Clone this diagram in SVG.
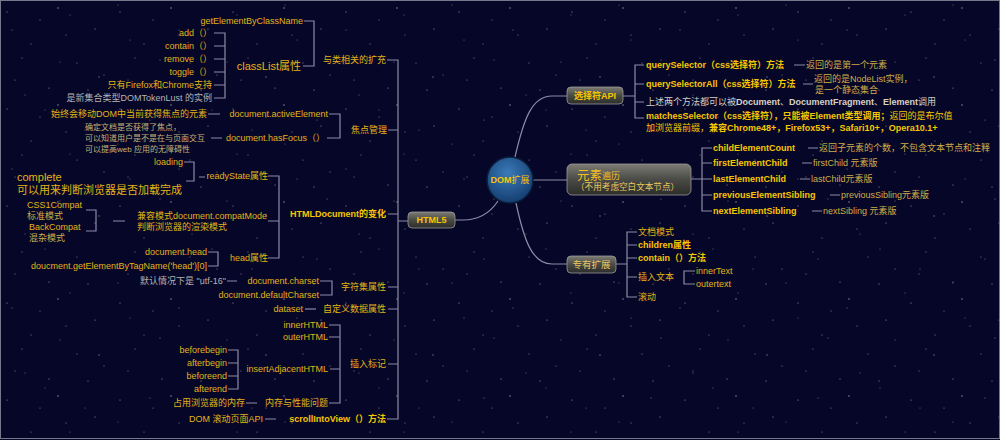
<svg xmlns="http://www.w3.org/2000/svg" width="1000" height="440" viewBox="0 0 1000 440">
<defs>
<style>
text{font-family:"Liberation Sans","Noto Sans CJK SC",sans-serif;font-size:9px;fill:#e2b418;dominant-baseline:central}
.b{font-weight:bold;fill:#f7c600}
.n{font-weight:normal}
.e{text-anchor:end}
.m{text-anchor:middle}
.g{fill:#b4b4b4}
.d{fill:#cfae48}
.s{font-size:8px;fill:#c9b277}
.w{fill:#d6d2c4}
.L{font-size:11px}
.cn{fill:none;stroke:#8c8ca6;stroke-width:1.2}
.box{fill:url(#gb);stroke:#9a9a9a;stroke-width:0.8}
.star{fill:#ffffff}
</style>
<linearGradient id="gb" x1="0" y1="0" x2="0" y2="1"><stop offset="0" stop-color="#7c7c74"/><stop offset="0.5" stop-color="#4a4a46"/><stop offset="1" stop-color="#2c2c2a"/></linearGradient>
<radialGradient id="gc" cx="0.45" cy="0.35" r="0.7"><stop offset="0" stop-color="#3a7ab8"/><stop offset="1" stop-color="#123a6c"/></radialGradient>
<pattern id="st1" width="113" height="97" patternUnits="userSpaceOnUse">
<g class="star" opacity="0.6"><circle cx="7" cy="12" r="0.6"/><circle cx="31" cy="44" r="0.5"/><circle cx="58" cy="8" r="0.7"/><circle cx="77" cy="63" r="0.5"/><circle cx="95" cy="29" r="0.6"/><circle cx="15" cy="80" r="0.5"/><circle cx="49" cy="88" r="0.6"/><circle cx="104" cy="75" r="0.5"/><circle cx="66" cy="35" r="0.5"/><circle cx="88" cy="90" r="0.6"/><circle cx="22" cy="58" r="0.5"/><circle cx="40" cy="20" r="0.5"/></g>
</pattern>
<pattern id="st2" width="167" height="139" patternUnits="userSpaceOnUse">
<g class="star" opacity="0.45"><circle cx="12" cy="30" r="0.6"/><circle cx="45" cy="110" r="0.5"/><circle cx="70" cy="15" r="0.5"/><circle cx="99" cy="77" r="0.7"/><circle cx="130" cy="40" r="0.5"/><circle cx="150" cy="120" r="0.6"/><circle cx="25" cy="95" r="0.5"/><circle cx="118" cy="5" r="0.5"/><circle cx="85" cy="130" r="0.5"/><circle cx="160" cy="60" r="0.6"/><circle cx="60" cy="62" r="0.5"/></g>
</pattern>
</defs>
<rect width="1000" height="440" fill="#060628"/>
<rect width="1000" height="440" fill="url(#st1)"/>
<rect width="1000" height="440" fill="url(#st2)"/>
<rect x="0.5" y="0.5" width="999" height="438" fill="none" stroke="#77778a" stroke-width="1"/>

<g id="connectors" class="cn">
<path d="M387,60 H398 V419 H387"/>
<path d="M388,130 H398 M388,214 H398 M398,221 H408 M388,287 H398 M388,309 H398 M388,364 H398"/>
<path d="M304,21 H314 V66 H303"/>
<path d="M214,33 H225 V98 H214 M214,46 H225 M214,59 H225 M214,72 H225 M214,85 H225"/>
<path d="M329,114 H340 V138 H327 M208,114 H220 M211,138 H222"/>
<path d="M268,176 H279 V258 H268 M268,221 H279"/>
<path d="M184,162 H194 V181 H186 M199,177 H205"/>
<path d="M86,210 H96 V231 H86 M113,221 H125"/>
<path d="M208,252 H218 V266 H208"/>
<path d="M320,281 H332 V295 H320 M227,281 H237"/>
<path d="M305,309 H316"/>
<path d="M329,325 H340 V403 H329 M329,337 H340 M330,369 H340"/>
<path d="M228,350 H238 V389 H228 M228,363 H238 M228,376 H238"/>
<path d="M246,403 H257 M265,419 H276"/>
<path d="M515,157 C524,118 532,96 552,96 H567"/>
<path d="M533,180 H567"/>
<path d="M516,203 C524,240 532,264 552,264 H567"/>
<path d="M498,201 C490,213 478,220 463,220 H455"/>
<path d="M623,96 H635 M644,65 H635 V118 H644 M635,84 H644 M635,102 H644 M794,65 H805 M803,84 H813"/>
<path d="M691,179 H702 M712,148 H702 V211 H712 M702,163 H712 M702,179 H712 M702,195 H712"/>
<path d="M808,148 H818 M802,163 H812 M800,179 H810 M830,195 H840 M812,211 H822"/>
<path d="M616,264 H627 M637,232 H627 V297 H637 M627,245 H637 M627,258 H637 M627,277 H637"/>
<path d="M695,271 H684 V284 H695"/>
</g>

<g id="center"><circle cx="510" cy="180" r="23" fill="url(#gc)" stroke="#0b1e3c" stroke-width="1.5"/><text x="510" y="180" class="m b">DOM<tspan class="n">扩展</tspan></text></g>
<g id="html5"><rect class="box" x="408" y="212" width="47" height="16" rx="4"/><text x="431.5" y="220" class="m b">HTML5</text></g>
<g id="selector"><rect class="box" x="567" y="87" width="56" height="17" rx="4"/><text x="595" y="95.5" class="m b">选择符API</text></g>
<g id="traversal"><rect class="box" x="567" y="164" width="124" height="31" rx="5"/><text x="577" y="175.5" style="font-size:12.5px;fill:#f0c020">元素<tspan style="font-size:9px">遍历</tspan></text><text x="576" y="187" style="font-size:8.6px;fill:#e8c860">（不用考虑空白文本节点）</text></g>
<g id="proprietary"><rect class="box" x="567" y="256" width="49" height="17" rx="4"/><text x="591.5" y="264.5" class="m" style="font-size:9.5px;fill:#e8c860">专有扩展</text></g>

<g id="n-class"><text x="386" y="60" class="e">与类相关的扩充</text></g>
<g id="n-getel"><text x="303" y="21" class="e">getElementByClassName</text></g>
<g id="n-classlist"><text x="301" y="66" class="e L">classList属性</text></g>
<g id="n-add"><text x="212" y="33" class="e">add（）</text></g>
<g id="n-contain"><text x="212" y="46" class="e">contain（）</text></g>
<g id="n-remove"><text x="212" y="59" class="e">remove（）</text></g>
<g id="n-toggle"><text x="212" y="72" class="e">toggle（）</text></g>
<g id="n-ffchrome"><text x="212" y="85" class="e">只有Firefox和Chrome支持</text></g>
<g id="n-domtoken"><text x="212" y="98" class="e g">是新集合类型DOMTokenLust 的实例</text></g>

<g id="n-focus"><text x="387" y="130" class="e">焦点管理</text></g>
<g id="n-active"><text x="328" y="114" class="e">document.activeElement</text></g>
<g id="n-hasfocus"><text x="325" y="138" class="e">document.hasFocus（）</text></g>
<g id="n-activedesc"><text x="207" y="114" class="e">始终会移动DOM中当前获得焦点的元素</text></g>
<g id="n-hasfocusdesc"><text x="85" y="127" class="s">确定文档是否获得了焦点，</text><text x="85" y="138" class="s">可以知道用户是不是在与页面交互</text><text x="85" y="149" class="s">可以提高web 应用的无障碍性</text></g>

<g id="n-htmldoc"><text x="386" y="214" class="e b">HTMLDocument的变化</text></g>
<g id="n-ready"><text x="268" y="176" class="e">readyState属性</text></g>
<g id="n-loading"><text x="183" y="162" class="e">loading</text></g>
<g id="n-complete"><text x="17" y="177" class="L">complete</text><text x="17" y="189.5" class="L">可以用来判断浏览器是否加载完成</text></g>
<g id="n-compat"><text x="137" y="216">兼容模式document.compatMode</text><text x="137" y="227">判断浏览器的渲染模式</text></g>
<g id="n-css1"><text x="27" y="205">CSS1Compat</text><text x="27" y="216" class="d">标准模式</text></g>
<g id="n-back"><text x="29" y="227">BackCompat</text><text x="29" y="238" class="d">混杂模式</text></g>
<g id="n-head"><text x="268" y="258" class="e">head属性</text></g>
<g id="n-dochead"><text x="207" y="252" class="e">document.head</text></g>
<g id="n-gettag"><text x="207" y="266" class="e">doucment.getElementByTagName('head')[0]</text></g>

<g id="n-charsetattr"><text x="386" y="287" class="e">字符集属性</text></g>
<g id="n-charset"><text x="319" y="281" class="e">document.charset</text></g>
<g id="n-defcharset"><text x="319" y="295" class="e">document.defaultCharset</text></g>
<g id="n-utf16"><text x="226" y="281" class="e g">默认情况下是 "utf-16"</text></g>

<g id="n-data"><text x="386" y="309" class="e">自定义数据属性</text></g>
<g id="n-dataset"><text x="303" y="309" class="e">dataset</text></g>

<g id="n-insert"><text x="386" y="364" class="e">插入标记</text></g>
<g id="n-inner"><text x="328" y="325" class="e">innerHTML</text></g>
<g id="n-outer"><text x="328" y="337" class="e">outerHTML</text></g>
<g id="n-adjacent"><text x="328" y="369" class="e">insertAdjacentHTML</text></g>
<g id="n-bb"><text x="227" y="350" class="e">beforebegin</text></g>
<g id="n-ab"><text x="227" y="363" class="e">afterbegin</text></g>
<g id="n-be"><text x="227" y="376" class="e">beforeend</text></g>
<g id="n-ae"><text x="227" y="389" class="e">afterend</text></g>
<g id="n-mem"><text x="328" y="403" class="e">内存与性能问题</text></g>
<g id="n-memdesc"><text x="245" y="403" class="e">占用浏览器的内存</text></g>
<g id="n-scroll"><text x="386" y="419" class="e b">scrollIntoView（）方法</text></g>
<g id="n-scrolldesc"><text x="263" y="419" class="e">DOM 滚动页面API</text></g>

<g id="n-qs"><text x="646" y="65" class="b">querySelector（css选择符）方法</text></g>
<g id="n-qsdesc"><text x="806" y="65" class="d">返回的是第一个元素</text></g>
<g id="n-qsa"><text x="646" y="84" class="b">querySelectorAll（css选择符）方法</text></g>
<g id="n-qsadesc"><text x="814" y="79" class="d">返回的是NodeList实例，</text><text x="815" y="90" class="d">是一个静态集合</text></g>
<g id="n-both"><text x="646" y="102" class="w">上述两个方法都可以被<tspan font-weight="bold">Document</tspan>、<tspan font-weight="bold">DocumentFragment</tspan>、<tspan font-weight="bold">Element</tspan>调用</text></g>
<g id="n-matches"><text x="646" y="116" class="b">matchesSelector（css选择符），只能被Element类型调用；<tspan class="n">返回的是布尔值</tspan></text><text x="646" y="128" class="b"><tspan class="n">加浏览器前缀，</tspan>兼容Chrome48+，Firefox53+，Safari10+，Opera10.1+</text></g>

<g id="n-cec"><text x="713" y="148" class="b">childElementCount</text><text x="819" y="148" class="d">返回子元素的个数，不包含文本节点和注释</text></g>
<g id="n-fec"><text x="713" y="163" class="b">firstElementChild</text><text x="813" y="163" class="d">firstChild 元素版</text></g>
<g id="n-lec"><text x="713" y="179" class="b">lastElementChild</text><text x="811" y="179" class="d">lastChild元素版</text></g>
<g id="n-pes"><text x="713" y="195" class="b">previousElementSibling</text><text x="841" y="195" class="d">previousSibling元素版</text></g>
<g id="n-nes"><text x="713" y="211" class="b">nextElementSibling</text><text x="823" y="211" class="d">nextSibling 元素版</text></g>

<g id="n-docmode"><text x="638" y="232">文档模式</text></g>
<g id="n-children"><text x="638" y="245" class="b">children属性</text></g>
<g id="n-pcontain"><text x="638" y="258" class="b">contain（）方法</text></g>
<g id="n-instext"><text x="638" y="277">插入文本</text></g>
<g id="n-innertext"><text x="696" y="271">innerText</text></g>
<g id="n-outertext"><text x="696" y="284">outertext</text></g>
<g id="n-scrolling"><text x="638" y="297">滚动</text></g>
</svg>
